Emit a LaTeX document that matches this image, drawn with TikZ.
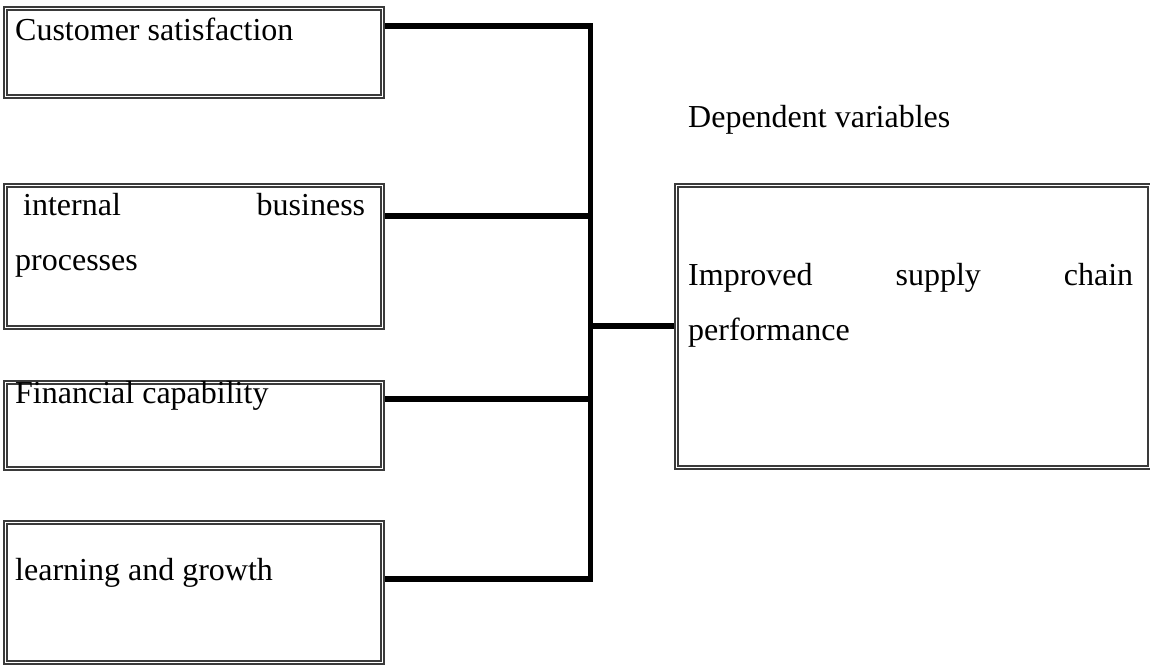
\documentclass[tikz,border=0pt]{standalone}
\usepackage{fontspec}
\setmainfont{Liberation Serif}
\definecolor{bordergray}{HTML}{3A3A3A}
\begin{document}
\begin{tikzpicture}[x=1pt,y=-1pt,
  box/.style={draw=bordergray, double=white, double distance=1.4pt, line width=2.1pt,
              inner sep=0pt, outer sep=2.8pt, anchor=north west, rectangle},
  txt/.style={inner sep=0pt, anchor=base west, font=\fontsize{32}{55}\selectfont},
  conn/.style={draw=black, line width=5.5pt}]
\useasboundingbox (0,0) rectangle (1150,664);
% boxes (coordinates are the centre lines of the double borders)
\node[box, minimum width=377pt, minimum height=88pt]  (b1) at (2.8,5.8) {};
\node[box, minimum width=377pt, minimum height=142pt] (b2) at (2.8,182.8) {};
\node[box, minimum width=377pt, minimum height=86pt]  (b3) at (2.8,379.8) {};
\node[box, minimum width=377pt, minimum height=140pt] (b4) at (2.8,519.8) {};
\node[box, minimum width=473pt, minimum height=282pt] (r)  at (673.8,182.8) {};
% texts
\node[txt] (t1) at (15,40) {Customer satisfaction};
\node[txt] (t2a) at (15,215) {\makebox[350pt][l]{\ internal\hfill business}};
\node[txt] (t2b) at (15,270) {processes};
\node[txt] (t3) at (15,403) {Financial capability};
\node[txt] (t4) at (15,580) {learning and growth};
\node[txt] (dep) at (688,127) {Dependent variables};
\node[txt] (tr1) at (688,285) {\makebox[445pt][l]{Improved\hfill supply\hfill chain}};
\node[txt] (tr2) at (688,340) {performance};
% bus coordinates
\coordinate (c1) at (590.5,26);
\coordinate (c2) at (590.5,216);
\coordinate (c3) at (590.5,399);
\coordinate (c4) at (590.5,579);
\coordinate (cr) at (590.5,326);
% connectors
\draw[conn, line cap=rect] (c1) -- (c4);
\draw[conn] (b1.east |- c1) -- (c1);
\draw[conn] (b2.east |- c2) -- (c2);
\draw[conn] (b3.east |- c3) -- (c3);
\draw[conn] (b4.east |- c4) -- (c4);
\draw[conn] (cr) -- (r.west |- cr);
\end{tikzpicture}
\end{document}
